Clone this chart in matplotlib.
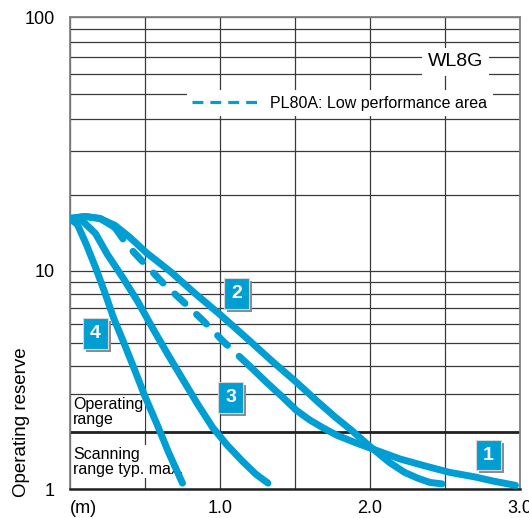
import matplotlib
matplotlib.use('Agg')
import matplotlib.pyplot as plt
import matplotlib.patheffects as pe
import numpy as np
from matplotlib.lines import Line2D

plt.rcParams['font.family'] = ['Liberation Sans', 'DejaVu Sans']

# curva 1 (parte discontinua = PL80A zona de bajo rendimiento)
c1_x = [0.0, 0.10, 0.2, 0.3, 0.38, 0.47, 0.62, 0.75, 0.89, 1.02, 1.2, 1.31, 1.42, 1.51, 1.6,
        1.69, 1.78, 1.9, 2.02, 2.2, 2.37, 2.53, 2.7, 2.82, 2.97]
c1_y = [16.2, 16.5, 16.2, 14.9, 12.7, 11.1, 8.9, 7.5, 6.2, 5.1, 3.97, 3.38, 2.89, 2.52, 2.27,
        2.08, 1.92, 1.77, 1.64, 1.46, 1.34, 1.24, 1.17, 1.11, 1.05]
dash_desde, dash_hasta = 0.3, 1.2

# curva 2
c2_x = [0.0, 0.10, 0.2, 0.3, 0.4, 0.51, 0.67, 0.83, 1.0, 1.2, 1.35, 1.51, 1.65, 1.77, 1.87,
        2.0, 2.13, 2.23, 2.32, 2.4, 2.48]
c2_y = [16.2, 16.5, 16.2, 15.2, 13.6, 11.8, 9.9, 8.1, 6.6, 5.1, 4.17, 3.38, 2.77, 2.34, 2.05,
        1.69, 1.40, 1.24, 1.15, 1.09, 1.07]

# curva 3
c3_x = [0.0, 0.08, 0.17, 0.25, 0.35, 0.45, 0.55, 0.65, 0.75, 0.85, 0.95, 1.05, 1.15, 1.24, 1.32]
c3_y = [16.2, 15.9, 14.1, 11.6, 9.4, 7.5, 5.8, 4.5, 3.5, 2.7, 2.1, 1.71, 1.42, 1.21, 1.08]

# curva 4
c4_x = [0.0, 0.05, 0.11, 0.17, 0.23, 0.29, 0.36, 0.43, 0.5, 0.58, 0.66, 0.75]
c4_y = [16.2, 15.3, 12.7, 10.3, 8.2, 6.4, 5.0, 3.85, 2.92, 2.17, 1.56, 1.08]

# ejes
x_ticks = [0, 0.5, 1.0, 1.5, 2.0, 2.5, 3.0]
x_labels = ['(m)', '', '1.0', '', '2.0', '', '3.0']
y_ticks = [1, 10, 100]
y_labels = ['1', '10', '100']
y_rejilla = [2, 3, 4, 5, 6, 7, 8, 9, 20, 30, 40, 50, 60, 70, 80, 90]
umbral = 2  # limite operating range / scanning range

azul = '#009ed3'
rejilla = '#3a3a3a'


# escala logaritmica desplazada, como la de la hoja de datos
def directa(v):
    return np.log10(np.maximum(np.asarray(v, dtype=float) + 0.5, 1e-6))


def inversa(u):
    return 10 ** np.asarray(u, dtype=float) - 0.5


fig = plt.figure(figsize=(5.29, 5.18), dpi=100)
ax = fig.add_axes([70 / 529, 29 / 518, 450 / 529, 472 / 518])
ax.set_yscale('function', functions=(directa, inversa))
ax.set_xlim(0, 3.0)
ax.set_ylim(1, 100)

ax.set_xticks(x_ticks)
ax.set_xticklabels(x_labels, fontsize=13)
ax.set_yticks(y_ticks)
ax.set_yticklabels(y_labels, fontsize=13)
ax.set_yticks(y_rejilla, minor=True)
ax.set_yticklabels([], minor=True)
ax.tick_params(which='both', length=0)
ax.tick_params(axis='y', pad=11)
ax.tick_params(axis='x', pad=8)
ax.get_xticklabels()[0].set_horizontalalignment('left')
ax.grid(True, which='both', color=rejilla, lw=0.9)
ax.set_axisbelow(True)

for s in ['left', 'top', 'right']:
    ax.spines[s].set_color('#808080')
    ax.spines[s].set_linewidth(1.3)
ax.spines['bottom'].set_color('#222222')
ax.spines['bottom'].set_linewidth(1.8)

ax.axhline(umbral, color='#222222', lw=2, zorder=2)

# curvas
estilo = dict(color=azul, lw=5, solid_capstyle='round', solid_joinstyle='round', zorder=4)
ax.plot(c4_x, c4_y, **estilo)
ax.plot(c3_x, c3_y, **estilo)
ax.plot(c2_x, c2_y, **estilo)

x1 = np.array(c1_x)
y1 = np.array(c1_y)
tramo_a = x1 <= dash_desde
tramo_b = (x1 >= dash_desde) & (x1 <= dash_hasta)
tramo_c = x1 >= dash_hasta
ax.plot(x1[tramo_a], y1[tramo_a], **estilo)
ax.plot(x1[tramo_c], y1[tramo_c], **estilo)
ax.plot(x1[tramo_b], y1[tramo_b], color=azul, lw=5, linestyle=(0, (2.0, 2.3)),
        dash_capstyle='round', zorder=4)

# textos de zona
ax.annotate('Operating\nrange', (0.02, umbral), xytext=(0, 3), textcoords='offset points',
            ha='left', va='bottom', fontsize=11.5, linespacing=1.0, zorder=3,
            bbox=dict(fc='white', ec='none', pad=1))
ax.annotate('Scanning\nrange typ. max.', (0.02, umbral), xytext=(0, -11), textcoords='offset points',
            ha='left', va='top', fontsize=11.5, linespacing=1.0, zorder=3,
            bbox=dict(fc='white', ec='none', pad=1))


# etiquetas numeradas de las curvas
def etiqueta(x, y, texto):
    t = ax.text(x, y, texto, ha='center', va='center', fontsize=14, fontweight='bold',
                color='white', zorder=6,
                bbox=dict(boxstyle='square,pad=0.35', fc=azul, ec='#d8d8d8', lw=0.8))
    t.get_bbox_patch().set_path_effects(
        [pe.withSimplePatchShadow(offset=(2.2, -2.2), shadow_rgbFace='#8c8c8c', alpha=1)])


etiqueta(2.79, 1.53, '1')
etiqueta(1.11, 8.06, '2')
etiqueta(1.07, 2.89, '3')
etiqueta(0.17, 5.5, '4')

# titulo y leyenda
ax.text(0.856, 0.905, 'WL8G', transform=ax.transAxes, ha='center', va='center',
        fontsize=14, bbox=dict(fc='white', ec='none', pad=4), zorder=3)
manejador = Line2D([], [], color=azul, lw=2.3, linestyle=(0, (3.4, 2.2)))
ley = ax.legend([manejador], ['PL80A: Low performance area'], loc='upper right',
                bbox_to_anchor=(0.94, 0.845), fontsize=11.5, frameon=True, fancybox=False,
                framealpha=1, edgecolor='none', facecolor='white', handlelength=4.1,
                handletextpad=0.8, borderpad=0.35, borderaxespad=0)
ley.set_zorder(3)

ax.text(-0.107, 0.142, 'Operating reserve', transform=ax.transAxes, rotation=90,
        ha='center', va='center', fontsize=13.5)

fig.savefig('out.png', dpi=100)
